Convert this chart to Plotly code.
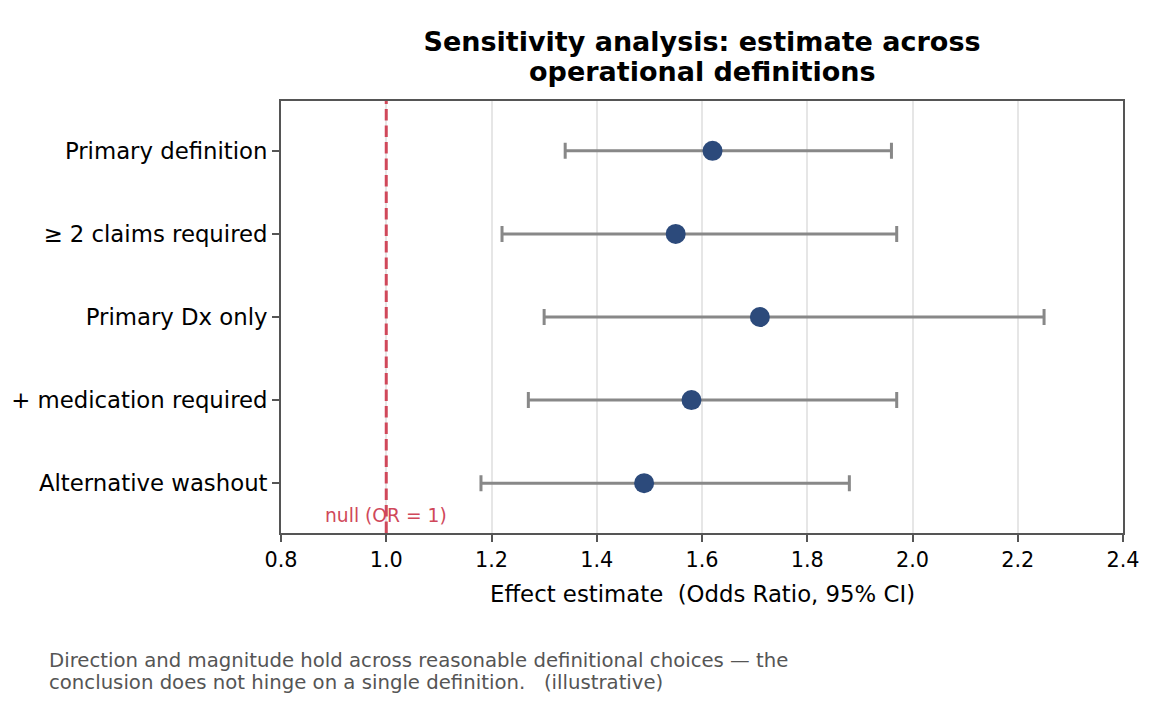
import plotly.graph_objects as go

definitions = ["Primary definition", "≥ 2 claims required", "Primary Dx only",
               "+ medication required", "Alternative washout"]
odds_ratio = [1.62, 1.55, 1.71, 1.58, 1.49]
ci_low = [1.34, 1.22, 1.30, 1.27, 1.18]
ci_high = [1.96, 1.97, 2.25, 1.97, 1.88]
x_ticks = [0.8, 1.0, 1.2, 1.4, 1.6, 1.8, 2.0, 2.2, 2.4]
null_value = 1.0
title_lines = ["Sensitivity analysis: estimate across", "operational definitions"]
footnote_lines = ["Direction and magnitude hold across reasonable definitional choices — the",
                  "conclusion does not hinge on a single definition.   (illustrative)"]

FONT = "DejaVu Sans"
W, H = 1170, 720
L, R, T, B = 281, 47, 101, 187
ph = H - T - B
pw = W - L - R


def py(pix):
    """pixel y (from top of figure) -> paper y"""
    return (T + ph - pix) / ph


def px(pix):
    return (pix - L) / pw


err_plus = [h - m for h, m in zip(ci_high, odds_ratio)]
err_minus = [m - l for m, l in zip(odds_ratio, ci_low)]

fig = go.Figure()
fig.add_trace(go.Scatter(
    x=odds_ratio, y=definitions, mode="markers",
    marker=dict(size=20, color="#2c4a7b", line=dict(width=0)),
    error_x=dict(type="data", symmetric=False, array=err_plus, arrayminus=err_minus,
                 color="#888888", thickness=3, width=8),
    showlegend=False, hoverinfo="x+y",
))

fig.add_shape(type="line", xref="x", yref="paper", x0=null_value, x1=null_value, y0=0, y1=1,
              line=dict(color="#d0485a", width=3, dash="11.5px,5px"), layer="above")

fig.add_annotation(x=null_value, xref="x", y=py(515), yref="paper", text="null (OR = 1)",
                   showarrow=False, font=dict(family=FONT, size=18.7, color="#d0485a"),
                   xanchor="center", yanchor="middle")

fig.add_annotation(x=0.5, xref="paper", y=py(594), yref="paper",
                   text="Effect estimate  (Odds Ratio, 95% CI)", showarrow=False,
                   font=dict(family=FONT, size=22.8, color="black"),
                   xanchor="center", yanchor="middle")

# title second line (first line is the layout title)
fig.add_annotation(x=0.5, xref="paper", y=py(71), yref="paper",
                   text="<b>" + title_lines[1] + "</b>", showarrow=False,
                   font=dict(family=FONT, size=27, color="black"),
                   xanchor="center", yanchor="middle")

for i, line in enumerate(footnote_lines):
    fig.add_annotation(x=px(47), xref="paper", y=py(660 + 22 * i), yref="paper",
                       text=line, showarrow=False, align="left",
                       font=dict(family=FONT, size=19.7, color="#555555"),
                       xanchor="left", yanchor="middle")

fig.update_layout(
    width=W, height=H,
    margin=dict(l=L, r=R, t=T, b=B),
    paper_bgcolor="white", plot_bgcolor="white",
    font=dict(family=FONT, color="black"),
    title=dict(text="<b>" + title_lines[0] + "</b>",
               x=0.5, xref="paper", xanchor="center",
               y=1 - 42 / H, yref="container", yanchor="middle",
               font=dict(family=FONT, size=27, color="black")),
    xaxis=dict(range=[0.8, 2.4], tickvals=x_ticks, ticktext=[f"{v:.1f}" for v in x_ticks],
               showgrid=True, gridcolor="#e6e6e6", gridwidth=1.6,
               showline=True, linecolor="#555555", linewidth=1.8, mirror=True,
               ticks="outside", ticklen=7, tickwidth=1.6, tickcolor="#555555",
               tickfont=dict(family=FONT, size=20.8, color="black"), zeroline=False),
    yaxis=dict(type="category", range=[4.6, -0.6], showgrid=False,
               showline=True, linecolor="#555555", linewidth=1.8, mirror=True,
               ticks="outside", ticklen=7, tickwidth=1.6, tickcolor="#555555",
               tickfont=dict(family=FONT, size=22.8, color="black"), zeroline=False),
)

fig.write_html("out.html")
